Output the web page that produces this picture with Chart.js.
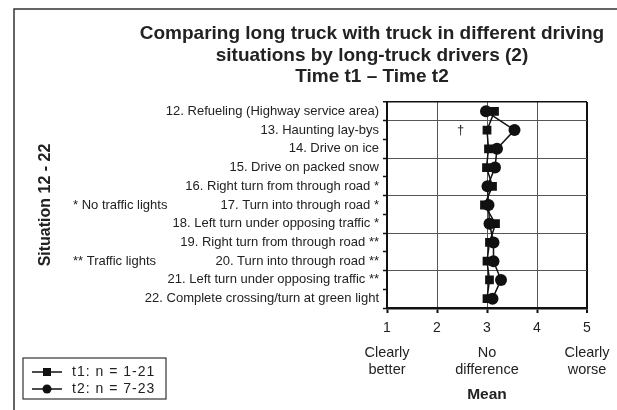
<!DOCTYPE html>
<html>
<head>
<meta charset="utf-8">
<script src="https://cdn.jsdelivr.net/npm/chart.js@4.4.1/dist/chart.umd.min.js"></script>
<style>
  html, body { margin: 0; padding: 0; background: #fff; }
  #wrap { width: 617px; height: 410px; }
</style>
</head>
<body>
<div id="wrap"><canvas id="chart" width="617" height="410"></canvas></div>
<script>
// Situations, top to bottom
const situations = [
    '12. Refueling (Highway service area)',
    '13. Haunting lay-bys',
    '14. Drive on ice',
    '15. Drive on packed snow',
    '16. Right turn from through road *',
    '17. Turn into through road *',
    '18. Left turn under opposing traffic *',
    '19. Right turn from through road **',
    '20. Turn into through road **',
    '21. Left turn under opposing traffic **',
    '22. Complete crossing/turn at green light'
];

// Mean ratings
const t1Means = [3.15, 3.00, 3.03, 2.99, 3.11, 2.95, 3.17, 3.05, 3.00, 3.05, 3.00];
const t2Means = [2.98, 3.55, 3.20, 3.16, 3.01, 3.03, 3.05, 3.13, 3.13, 3.28, 3.11];
const seriesNames = ['t1: n = 1-21', 't2: n = 7-23'];

// Scale text
const titleLines = [
    'Comparing long truck with truck in different driving',
    'situations by long-truck drivers (2)',
    'Time t1 \u2013 Time t2'
];
const anchorValues = [1, 3, 5];
const anchorText = [['Clearly', 'better'], ['No', 'difference'], ['Clearly', 'worse']];
const footnotes = ['* No traffic lights', '** Traffic lights'];
const footnoteRows = [5, 8];
const daggerRow = 1;
const daggerValue = 2.47;

const FONT = '"Liberation Sans", Arial, Helvetica, sans-serif';
const INK = '#222';

// Extra drawing: frame, title, anchors, notes, legend
const decorPlugin = {
    id: 'decor',
    afterDraw(chart) {
        const ctx = chart.ctx;
        const xs = chart.scales.x;
        const ys = chart.scales.y;
        ctx.save();

        // outer frame (left and top)
        ctx.strokeStyle = '#333';
        ctx.lineWidth = 1.5;
        ctx.beginPath();
        ctx.moveTo(14, 410);
        ctx.lineTo(14, 9);
        ctx.lineTo(617, 9);
        ctx.stroke();

        // title
        ctx.fillStyle = INK;
        ctx.textAlign = 'center';
        ctx.textBaseline = 'middle';
        ctx.font = 'bold 19px ' + FONT;
        titleLines.forEach((t, i) => ctx.fillText(t, 372, 34 + i * 21.5));

        // descriptive labels under 1, 3, 5
        ctx.font = '14.5px ' + FONT;
        anchorValues.forEach((v, i) => {
            const px = xs.getPixelForValue(v);
            anchorText[i].forEach((t, j) => ctx.fillText(t, px, 353 + j * 17));
        });

        // dagger mark
        ctx.font = '13px ' + FONT;
        ctx.fillText('\u2020', xs.getPixelForValue(daggerValue), ys.getPixelForValue(daggerRow));

        // footnotes
        ctx.textAlign = 'left';
        footnotes.forEach((t, i) => ctx.fillText(t, 73, ys.getPixelForValue(footnoteRows[i])));

        // legend
        ctx.strokeStyle = '#333';
        ctx.lineWidth = 1.2;
        ctx.strokeRect(23, 358, 143, 41);
        [372, 389].forEach((ly, i) => {
            ctx.strokeStyle = '#111';
            ctx.lineWidth = 1.5;
            ctx.beginPath();
            ctx.moveTo(32, ly);
            ctx.lineTo(62, ly);
            ctx.stroke();
            ctx.fillStyle = '#111';
            if (i === 0) {
                ctx.fillRect(43, ly - 4, 8, 8);
            } else {
                ctx.beginPath();
                ctx.arc(47, ly, 4.5, 0, Math.PI * 2);
                ctx.fill();
            }
            ctx.fillStyle = INK;
            ctx.font = '14px ' + FONT;
            ctx.letterSpacing = '1px';
            ctx.fillText(seriesNames[i], 72, ly);
            ctx.letterSpacing = '0px';
        });

        ctx.restore();
    }
};

const ctx = document.getElementById('chart').getContext('2d');
new Chart(ctx, {
    type: 'line',
    data: {
        labels: situations,
        datasets: [
            {
                label: seriesNames[0],
                data: t1Means,
                borderColor: '#111',
                backgroundColor: '#111',
                borderWidth: 1.5,
                pointStyle: 'rect',
                pointRadius: 6.2,
                pointBorderWidth: 0,
                order: 2
            },
            {
                label: seriesNames[1],
                data: t2Means,
                borderColor: '#111',
                backgroundColor: '#111',
                borderWidth: 1.5,
                pointStyle: 'circle',
                pointRadius: 6,
                pointBorderWidth: 0,
                order: 1
            }
        ]
    },
    options: {
        indexAxis: 'y',
        responsive: false,
        animation: false,
        devicePixelRatio: 1,
        events: [],
        layout: {
            padding: { top: 102, right: 30, bottom: 0, left: 0 }
        },
        scales: {
            x: {
                type: 'linear',
                min: 1,
                max: 5,
                afterFit: (scale) => { scale.height = 102; },
                ticks: {
                    stepSize: 1,
                    color: INK,
                    padding: 7,
                    font: { family: FONT, size: 14 }
                },
                grid: {
                    color: (c) => c.index === 0 ? 'rgba(0,0,0,0)' : (c.index === 4 ? '#111' : '#555'),
                    lineWidth: (c) => c.index === 4 ? 2 : 1,
                    tickColor: '#111',
                    tickLength: 5,
                    tickWidth: 2
                },
                border: { color: '#111', width: 2.5 },
                title: {
                    display: true,
                    text: 'Mean',
                    color: INK,
                    font: { family: FONT, size: 15.5, weight: 'bold' },
                    padding: { top: 0, bottom: 6 }
                }
            },
            y: {
                type: 'category',
                offset: true,
                afterFit: (scale) => { scale.width = 387; },
                ticks: {
                    color: INK,
                    padding: 4,
                    font: { family: FONT, size: 13 }
                },
                grid: {
                    offset: true,
                    color: (c) => c.index === 0 ? '#111' : (c.index % 2 === 1 && c.index < 11 ? '#555' : 'rgba(0,0,0,0)'),
                    lineWidth: (c) => c.index === 0 ? 1.5 : 1,
                    tickColor: '#111',
                    tickLength: 4,
                    tickWidth: 1.5
                },
                border: { color: '#111', width: 2 },
                title: {
                    display: true,
                    text: 'Situation 12 - 22',
                    color: INK,
                    font: { family: FONT, size: 16, weight: 'bold' },
                    padding: { top: 36, bottom: 0 }
                }
            }
        },
        plugins: {
            legend: { display: false },
            tooltip: { enabled: false }
        }
    },
    plugins: [decorPlugin]
});
</script>
</body>
</html>
